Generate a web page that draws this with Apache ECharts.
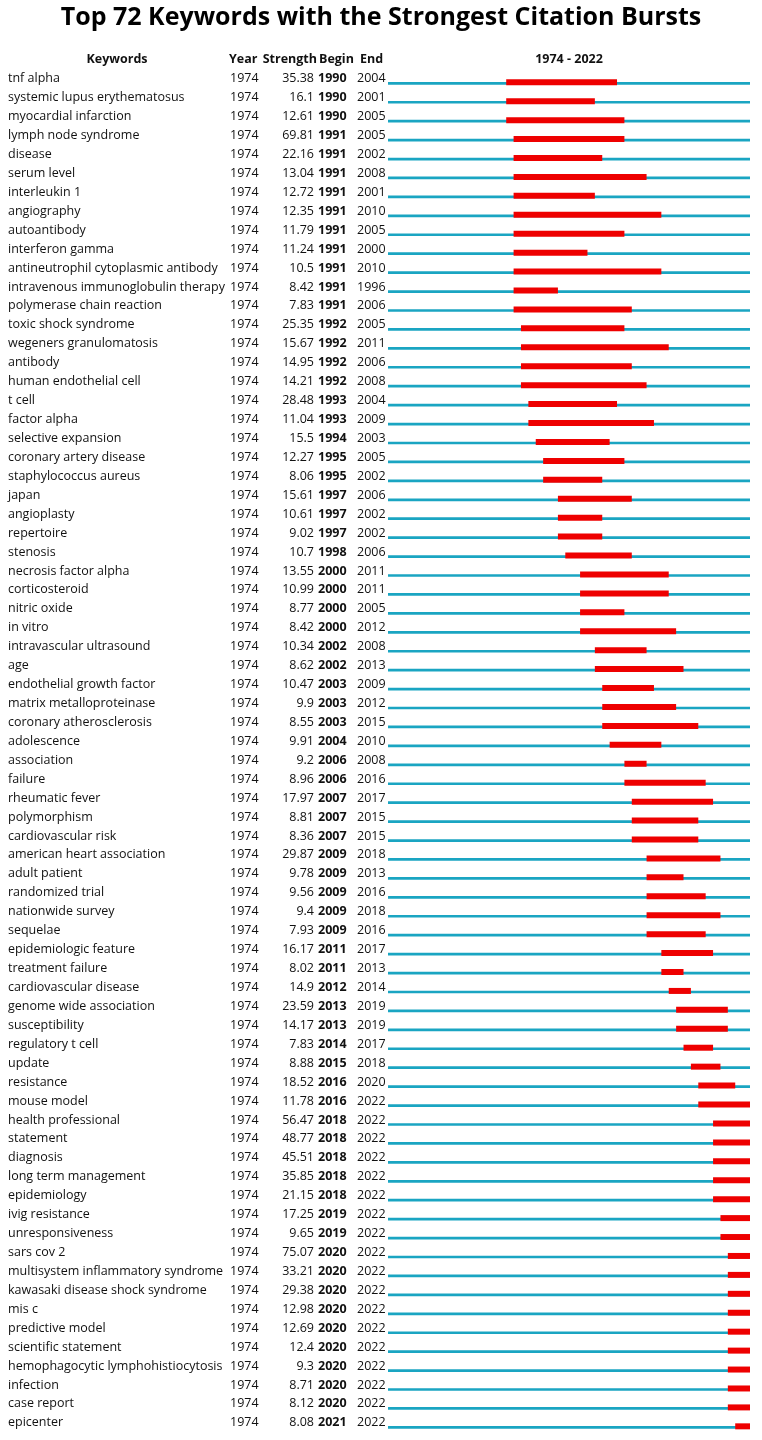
<!DOCTYPE html>
<html><head><meta charset="utf-8">
<script src="https://cdn.jsdelivr.net/npm/echarts@6/dist/echarts.min.js"></script>
<style>html,body{margin:0;padding:0;background:#fff}#c{width:762px;height:1440px}</style>
</head><body><div id="c"></div>
<script>
const keywords = ["tnf alpha","systemic lupus erythematosus","myocardial infarction","lymph node syndrome","disease","serum level","interleukin 1","angiography","autoantibody","interferon gamma","antineutrophil cytoplasmic antibody","intravenous immunoglobulin therapy","polymerase chain reaction","toxic shock syndrome","wegeners granulomatosis","antibody","human endothelial cell","t cell","factor alpha","selective expansion","coronary artery disease","staphylococcus aureus","japan","angioplasty","repertoire","stenosis","necrosis factor alpha","corticosteroid","nitric oxide","in vitro","intravascular ultrasound","age","endothelial growth factor","matrix metalloproteinase","coronary atherosclerosis","adolescence","association","failure","rheumatic fever","polymorphism","cardiovascular risk","american heart association","adult patient","randomized trial","nationwide survey","sequelae","epidemiologic feature","treatment failure","cardiovascular disease","genome wide association","susceptibility","regulatory t cell","update","resistance","mouse model","health professional","statement","diagnosis","long term management","epidemiology","ivig resistance","unresponsiveness","sars cov 2","multisystem inflammatory syndrome","kawasaki disease shock syndrome","mis c","predictive model","scientific statement","hemophagocytic lymphohistiocytosis","infection","case report","epicenter"];
const years = [1974,1974,1974,1974,1974,1974,1974,1974,1974,1974,1974,1974,1974,1974,1974,1974,1974,1974,1974,1974,1974,1974,1974,1974,1974,1974,1974,1974,1974,1974,1974,1974,1974,1974,1974,1974,1974,1974,1974,1974,1974,1974,1974,1974,1974,1974,1974,1974,1974,1974,1974,1974,1974,1974,1974,1974,1974,1974,1974,1974,1974,1974,1974,1974,1974,1974,1974,1974,1974,1974,1974,1974];
const strengths = [35.38,16.1,12.61,69.81,22.16,13.04,12.72,12.35,11.79,11.24,10.5,8.42,7.83,25.35,15.67,14.95,14.21,28.48,11.04,15.5,12.27,8.06,15.61,10.61,9.02,10.7,13.55,10.99,8.77,8.42,10.34,8.62,10.47,9.9,8.55,9.91,9.2,8.96,17.97,8.81,8.36,29.87,9.78,9.56,9.4,7.93,16.17,8.02,14.9,23.59,14.17,7.83,8.88,18.52,11.78,56.47,48.77,45.51,35.85,21.15,17.25,9.65,75.07,33.21,29.38,12.98,12.69,12.4,9.3,8.71,8.12,8.08];
const begins = [1990,1990,1990,1991,1991,1991,1991,1991,1991,1991,1991,1991,1991,1992,1992,1992,1992,1993,1993,1994,1995,1995,1997,1997,1997,1998,2000,2000,2000,2000,2002,2002,2003,2003,2003,2004,2006,2006,2007,2007,2007,2009,2009,2009,2009,2009,2011,2011,2012,2013,2013,2014,2015,2016,2016,2018,2018,2018,2018,2018,2019,2019,2020,2020,2020,2020,2020,2020,2020,2020,2020,2021];
const ends = [2004,2001,2005,2005,2002,2008,2001,2010,2005,2000,2010,1996,2006,2005,2011,2006,2008,2004,2009,2003,2005,2002,2006,2002,2002,2006,2011,2011,2005,2012,2008,2013,2009,2012,2015,2010,2008,2016,2017,2015,2015,2018,2013,2016,2018,2016,2017,2013,2014,2019,2019,2017,2018,2020,2022,2022,2022,2022,2022,2022,2022,2022,2022,2022,2022,2022,2022,2022,2022,2022,2022,2022];
const rangeStart = 1974, rangeEnd = 2022;
const headers = ["Keywords","Year","Strength","Begin","End"];
const titleText = "Top 72 Keywords with the Strongest Citation Bursts";

const FONT = '"Open Sans", "Noto Sans", sans-serif';
const BLUE = '#1aa5c2', RED = '#ee0000', TXT = '#111';
const GRID_LEFT = 388;
const FS = 12.5;

function colAxis(data, x, align, bold) {
  return {
    type: 'category', data: data.map(String), inverse: true, position: 'left', gridIndex: 0,
    axisLine: {show: false}, axisTick: {show: false}, splitLine: {show: false},
    axisLabel: {interval: 0, margin: GRID_LEFT - x, align: align, fontSize: FS, fontFamily: FONT,
      color: TXT, fontWeight: bold ? 'bold' : 'normal', verticalAlign: 'bottom', lineHeight: 9}
  };
}

function header(text, x, align) {
  return {type: 'text', x: x, y: 59,
    style: {text: text, font: 'bold 12.5px ' + FONT, fill: TXT, align: align, verticalAlign: 'middle'}};
}

const chart = echarts.init(document.getElementById('c'), null, {renderer: 'canvas'});
chart.setOption({
  animation: false,
  backgroundColor: '#fff',
  title: {text: titleText, left: 'center', top: 0,
    textStyle: {fontFamily: FONT, fontSize: 25, fontWeight: 'bold', color: '#000'}},
  grid: {left: GRID_LEFT, right: 12, top: 73.8, height: 1363, outerBoundsMode: 'none', containLabel: false},
  xAxis: {type: 'value', min: rangeStart, max: rangeEnd + 1, show: false},
  yAxis: [
    colAxis(keywords, 8, 'left', false),
    colAxis(years, 230, 'left', false),
    colAxis(strengths, 314, 'right', false),
    colAxis(begins, 318, 'left', true),
    colAxis(ends, 357, 'left', false)
  ],
  graphic: [
    header(headers[0], 117, 'center'),
    header(headers[1], 229, 'left'),
    header(headers[2], 317, 'right'),
    header(headers[3], 319, 'left'),
    header(headers[4], 360, 'left'),
    header(rangeStart + ' - ' + rangeEnd, 569, 'center')
  ],
  series: [{
    type: 'custom', xAxisIndex: 0, yAxisIndex: 0,
    data: keywords.map((k, i) => [i, begins[i], ends[i]]),
    encode: {x: [1, 2], y: 0},
    renderItem: function (params, api) {
      const i = api.value(0);
      const a = api.coord([rangeStart, i]);
      const b = api.coord([rangeEnd + 1, i]);
      const s = api.coord([api.value(1), i]);
      const e = api.coord([api.value(2) + 1, i]);
      const c = a[1];
      return {type: 'group', children: [
        {type: 'rect', shape: {x: a[0], y: c - 1.3, width: b[0] - a[0], height: 2.7}, style: {fill: BLUE}},
        {type: 'rect', shape: {x: s[0], y: c - 4, width: e[0] - s[0], height: 6}, style: {fill: RED}}
      ]};
    }
  }]
});
</script></body></html>
